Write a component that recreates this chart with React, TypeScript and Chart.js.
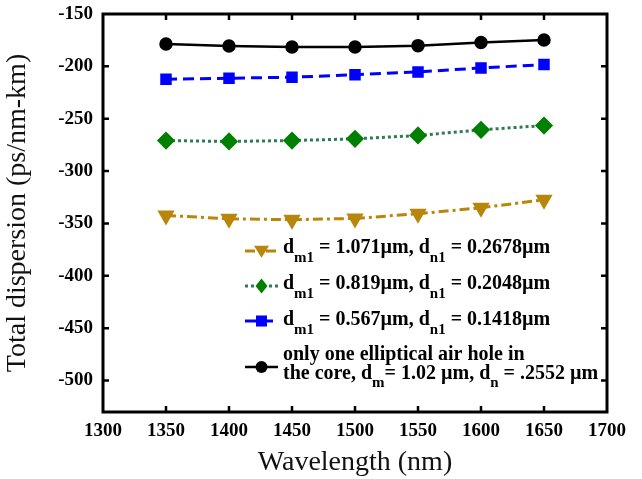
import React, { useEffect, useRef } from 'react';
import { Chart, registerables } from 'chart.js';

Chart.register(...registerables);

// ---- data ----
const wavelengths = [1350, 1400, 1450, 1500, 1550, 1600, 1650];
const singleHole = [-178.6, -180.5, -181.5, -181.5, -180.2, -177.3, -174.8];
const d567 = [-212.3, -211.3, -210.4, -207.9, -205.3, -201.5, -198.3];
const d819 = [-270.8, -271.7, -270.8, -269.2, -266.0, -260.6, -256.5];
const d1071 = [-342.3, -345.5, -346.4, -345.2, -340.7, -335.0, -327.4];
const xTickValues = [1300, 1350, 1400, 1450, 1500, 1550, 1600, 1650, 1700];
const yTickValues = [-500, -450, -400, -350, -300, -250, -200, -150];

const SERIF = '"Liberation Serif", "Times New Roman", serif';

type Part = { t: string; sub?: boolean };

const legendRows: { ds: number; lines: Part[][] }[] = [
  { ds: 0, lines: [[{ t: 'd' }, { t: 'm1', sub: true }, { t: ' = 1.071\u00b5m, d' }, { t: 'n1', sub: true }, { t: ' = 0.2678\u00b5m' }]] },
  { ds: 1, lines: [[{ t: 'd' }, { t: 'm1', sub: true }, { t: ' = 0.819\u00b5m, d' }, { t: 'n1', sub: true }, { t: ' = 0.2048\u00b5m' }]] },
  { ds: 2, lines: [[{ t: 'd' }, { t: 'm1', sub: true }, { t: ' = 0.567\u00b5m, d' }, { t: 'n1', sub: true }, { t: ' = 0.1418\u00b5m' }]] },
  {
    ds: 3,
    lines: [
      [{ t: 'only one elliptical air hole in' }],
      [{ t: 'the core, d' }, { t: 'm', sub: true }, { t: '= 1.02 \u00b5m, d' }, { t: 'n', sub: true }, { t: ' = .2552 \u00b5m' }],
    ],
  },
];

function drawMarker(ctx: CanvasRenderingContext2D, style: string, x: number, y: number, r: number, color: string) {
  ctx.save();
  ctx.fillStyle = color;
  ctx.beginPath();
  if (style === 'circle') {
    ctx.arc(x, y, r, 0, Math.PI * 2);
  } else if (style === 'rect') {
    ctx.rect(x - r * 0.85, y - r * 0.85, r * 1.7, r * 1.7);
  } else if (style === 'rectRot') {
    ctx.moveTo(x, y - r);
    ctx.lineTo(x + r * 0.8, y);
    ctx.lineTo(x, y + r);
    ctx.lineTo(x - r * 0.8, y);
    ctx.closePath();
  } else {
    ctx.moveTo(x - r, y - r * 0.7);
    ctx.lineTo(x + r, y - r * 0.7);
    ctx.lineTo(x, y + r * 0.9);
    ctx.closePath();
  }
  ctx.fill();
  ctx.restore();
}

const framePlugin = {
  id: 'frameTicksLegend',
  afterDraw(chart: any) {
    const { ctx, chartArea } = chart;
    const { left, right, top, bottom } = chartArea;
    const xs = chart.scales.x;
    const ys = chart.scales.y;
    ctx.save();
    ctx.strokeStyle = '#000';
    ctx.lineWidth = 3;
    ctx.strokeRect(left, top, right - left, bottom - top);
    ctx.lineWidth = 2.5;
    ctx.beginPath();
    xTickValues.slice(1, -1).forEach((v) => {
      const px = xs.getPixelForValue(v);
      ctx.moveTo(px, bottom);
      ctx.lineTo(px, bottom - 6);
      ctx.moveTo(px, top);
      ctx.lineTo(px, top + 6);
    });
    yTickValues.slice(0, -1).forEach((v) => {
      const py = ys.getPixelForValue(v);
      ctx.moveTo(left, py);
      ctx.lineTo(left + 6, py);
      ctx.moveTo(right, py);
      ctx.lineTo(right - 6, py);
    });
    ctx.stroke();

    // legend
    const rowY = [248, 284, 320, 355];
    const markerY = [251, 286, 321, 367];
    const x0 = 245;
    const x1 = 278;
    const tx = 283;
    legendRows.forEach((row, i) => {
      const ds = chart.data.datasets[row.ds];
      ctx.save();
      ctx.strokeStyle = ds.borderColor;
      ctx.lineWidth = ds.borderWidth;
      ctx.setLineDash(ds.borderDash || []);
      ctx.beginPath();
      ctx.moveTo(x0, markerY[i]);
      ctx.lineTo(x1, markerY[i]);
      ctx.stroke();
      ctx.restore();
      drawMarker(ctx, ds.pointStyle, (x0 + x1) / 2, markerY[i], ds.pointRadius + 0.5, ds.pointBackgroundColor);
      row.lines.forEach((parts, li) => {
        let cx = tx;
        const cy = rowY[i] + li * 18.5;
        parts.forEach((p) => {
          ctx.font = p.sub ? `bold 15px ${SERIF}` : `bold 20px ${SERIF}`;
          ctx.fillStyle = '#000';
          ctx.textBaseline = 'middle';
          ctx.textAlign = 'left';
          ctx.fillText(p.t, cx, p.sub ? cy + 10 : cy);
          cx += ctx.measureText(p.t).width;
        });
      });
    });
    ctx.restore();
  },
};

export default function App() {
  const ref = useRef<HTMLCanvasElement | null>(null);
  useEffect(() => {
    if (!ref.current) return;
    const pts = (arr: number[]) => wavelengths.map((w, i) => ({ x: w, y: arr[i] }));
    const chart = new Chart(ref.current, {
      type: 'line',
      data: {
        datasets: [
          {
            label: 'dm1 = 1.071\u00b5m, dn1 = 0.2678\u00b5m',
            data: pts(d1071),
            borderColor: '#b8860b',
            backgroundColor: '#b8860b',
            pointBackgroundColor: '#b8860b',
            pointBorderColor: '#b8860b',
            borderWidth: 3,
            borderDash: [10, 4, 3, 4],
            pointStyle: 'triangle',
            rotation: 180,
            pointRadius: 7,
          },
          {
            label: 'dm1 = 0.819\u00b5m, dn1 = 0.2048\u00b5m',
            data: pts(d819),
            borderColor: '#2e7d52',
            backgroundColor: '#008000',
            pointBackgroundColor: '#008000',
            pointBorderColor: '#008000',
            borderWidth: 3,
            borderDash: [3, 3],
            pointStyle: 'rectRot',
            pointRadius: 7,
          },
          {
            label: 'dm1 = 0.567\u00b5m, dn1 = 0.1418\u00b5m',
            data: pts(d567),
            borderColor: '#0000ff',
            backgroundColor: '#0000ff',
            pointBackgroundColor: '#0000ff',
            pointBorderColor: '#0000ff',
            borderWidth: 3,
            borderDash: [11, 6],
            pointStyle: 'rect',
            pointRadius: 6,
          },
          {
            label: 'only one elliptical air hole in the core, dm = 1.02 \u00b5m, dn = .2552 \u00b5m',
            data: pts(singleHole),
            borderColor: '#000000',
            backgroundColor: '#000000',
            pointBackgroundColor: '#000000',
            pointBorderColor: '#000000',
            borderWidth: 2.5,
            pointStyle: 'circle',
            pointRadius: 5.5,
          },
        ],
      },
      options: {
        responsive: false,
        animation: false,
        devicePixelRatio: 1,
        layout: { padding: { left: 0, top: 14, right: 35, bottom: 0 } },
        plugins: { legend: { display: false }, tooltip: { enabled: false } },
        scales: {
          x: {
            type: 'linear',
            min: 1300,
            max: 1700,
            grid: { display: false, drawTicks: false },
            border: { display: false },
            afterBuildTicks: (s: any) => {
              s.ticks = xTickValues.map((v) => ({ value: v }));
            },
            afterFit: (s: any) => {
              s.height = 67;
              s.paddingLeft = 0;
              s.paddingRight = 0;
            },
            ticks: {
              padding: 8,
              color: '#000',
              font: { family: SERIF, size: 19, weight: 'bold' },
              maxRotation: 0,
              callback: (v: any) => String(v),
            },
            title: {
              display: true,
              text: 'Wavelength (nm)',
              color: '#111',
              font: { family: SERIF, size: 28 },
              padding: { top: 0, bottom: 0 },
            },
          },
          y: {
            type: 'linear',
            min: -530,
            max: -150,
            grid: { display: false, drawTicks: false },
            border: { display: false },
            afterBuildTicks: (s: any) => {
              s.ticks = yTickValues.map((v) => ({ value: v }));
            },
            afterFit: (s: any) => {
              s.width = 103;
              s.paddingTop = 0;
              s.paddingBottom = 0;
            },
            ticks: {
              padding: 10,
              color: '#000',
              font: { family: SERIF, size: 19, weight: 'bold' },
              callback: (v: any) => String(v),
            },
            title: {
              display: true,
              text: 'Total dispersion (ps/nm-km)',
              color: '#111',
              font: { family: SERIF, size: 28 },
              padding: { top: 1, bottom: 0 },
            },
          },
        },
      },
      plugins: [framePlugin],
    } as any);
    return () => chart.destroy();
  }, []);
  return (
    <div style={{ position: 'fixed', left: 0, top: 0, width: 642, height: 479, background: '#fff' }}>
      <canvas ref={ref} width={642} height={479} />
    </div>
  );
}
